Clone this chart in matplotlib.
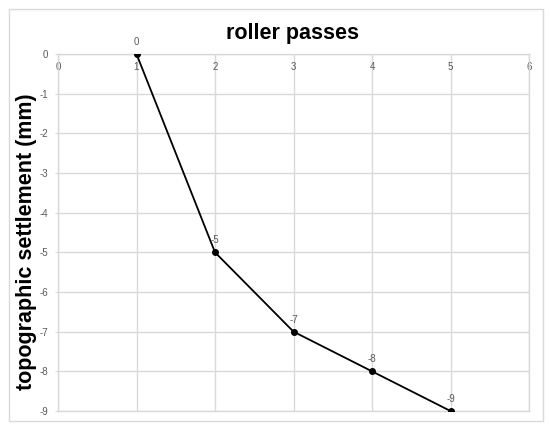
import matplotlib.pyplot as plt
from matplotlib.patches import Rectangle

passes = [1, 2, 3, 4, 5]
settlement = [0, -5, -7, -8, -9]
x_ticks = [0, 1, 2, 3, 4, 5, 6]
y_ticks = [0, -1, -2, -3, -4, -5, -6, -7, -8, -9]

plt.rcParams['font.family'] = ['Liberation Sans', 'DejaVu Sans']
plt.rcParams['axes.unicode_minus'] = False

fig = plt.figure(figsize=(5.5, 4.3), dpi=100)
fig.patches.append(Rectangle((9 / 550, 1 - 421 / 430), 534 / 550, 412 / 430,
                             transform=fig.transFigure, fill=False,
                             edgecolor='#d9d9d9', linewidth=1))
ax = fig.add_axes([58 / 550, 1 - 411 / 430, 471 / 550, 357 / 430])

ax.plot(passes, settlement, color='black', linewidth=1.3,
        marker='o', markersize=4, zorder=3)
for x, y in zip(passes, settlement):
    ax.annotate(str(y), (x, y), xytext=(0, 5), textcoords='offset points',
                ha='center', va='bottom', fontsize=7, color='#595959')

ax.set_xlim(0, 6)
ax.set_ylim(-9, 0)
ax.set_xticks(x_ticks)
ax.set_yticks(y_ticks)
ax.xaxis.tick_top()
ax.tick_params(axis='x', length=0, pad=-13, labelsize=7, labelcolor='#595959')
ax.tick_params(axis='y', length=2, color='#d9d9d9', pad=5, labelsize=7, labelcolor='#595959')
ax.grid(True, color='#d9d9d9', linewidth=1)
ax.set_axisbelow(True)
for s in ax.spines.values():
    s.set_color('#d9d9d9')
    s.set_linewidth(1)

fig.text(292 / 550, 1 - 33 / 430, 'roller passes', ha='center', va='center',
         fontsize=15.5, fontweight='bold')
fig.text(27 / 550, 1 - 242 / 430, 'topographic settlement (mm)', ha='center',
         va='center', rotation=90, fontsize=15.5, fontweight='bold')

fig.savefig('out.png', dpi=100)
